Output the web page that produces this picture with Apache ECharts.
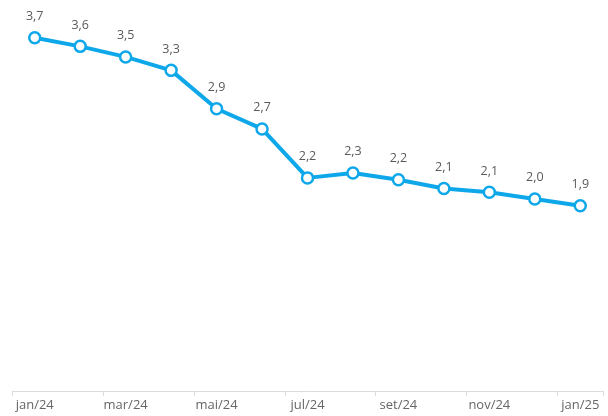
<!DOCTYPE html>
<html><head><meta charset="utf-8">
<script src="https://cdn.jsdelivr.net/npm/echarts@6/dist/echarts.min.js"></script>
<style>html,body{margin:0;padding:0;background:#fff}#c{width:608px;height:416px}</style>
</head><body><div id="c"></div>
<script>
const categories = ['jan/24','fev/24','mar/24','abr/24','mai/24','jun/24','jul/24','ago/24','set/24','out/24','nov/24','dez/24','jan/25'];
const values = [3.68, 3.59, 3.48, 3.34, 2.94, 2.73, 2.22, 2.27, 2.20, 2.11, 2.07, 2.00, 1.93];

const chart = echarts.init(document.getElementById('c'));
chart.setOption({
  animation: false,
  grid: { left: 12, right: 5, top: 7, bottom: 25, containLabel: false },
  xAxis: {
    type: 'category',
    data: categories,
    boundaryGap: true,
    axisLine: { show: true, lineStyle: { color: '#dcdcdc', width: 1 } },
    axisTick: { show: true, interval: 1, length: 5, lineStyle: { color: '#dcdcdc' } },
    axisLabel: { interval: 1, color: '#666', fontSize: 13, fontFamily: '"Open Sans", sans-serif', margin: 8 },
    splitLine: { show: false }
  },
  yAxis: {
    type: 'value', min: 0, max: 4, show: false,
    splitLine: { show: false }
  },
  series: [{
    type: 'line',
    data: values,
    symbol: 'circle',
    symbolSize: 11,
    showAllSymbol: true,
    lineStyle: { color: '#0ea8ea', width: 4 },
    itemStyle: { color: '#ffffff', borderColor: '#0ea8ea', borderWidth: 2.5 },
    label: {
      show: true, position: 'top', distance: 8,
      color: '#5a5a5a', fontSize: 12.5, fontFamily: '"Open Sans", sans-serif',
      formatter: p => p.value.toFixed(1).replace('.', ',')
    }
  }]
});
</script>
</body></html>
